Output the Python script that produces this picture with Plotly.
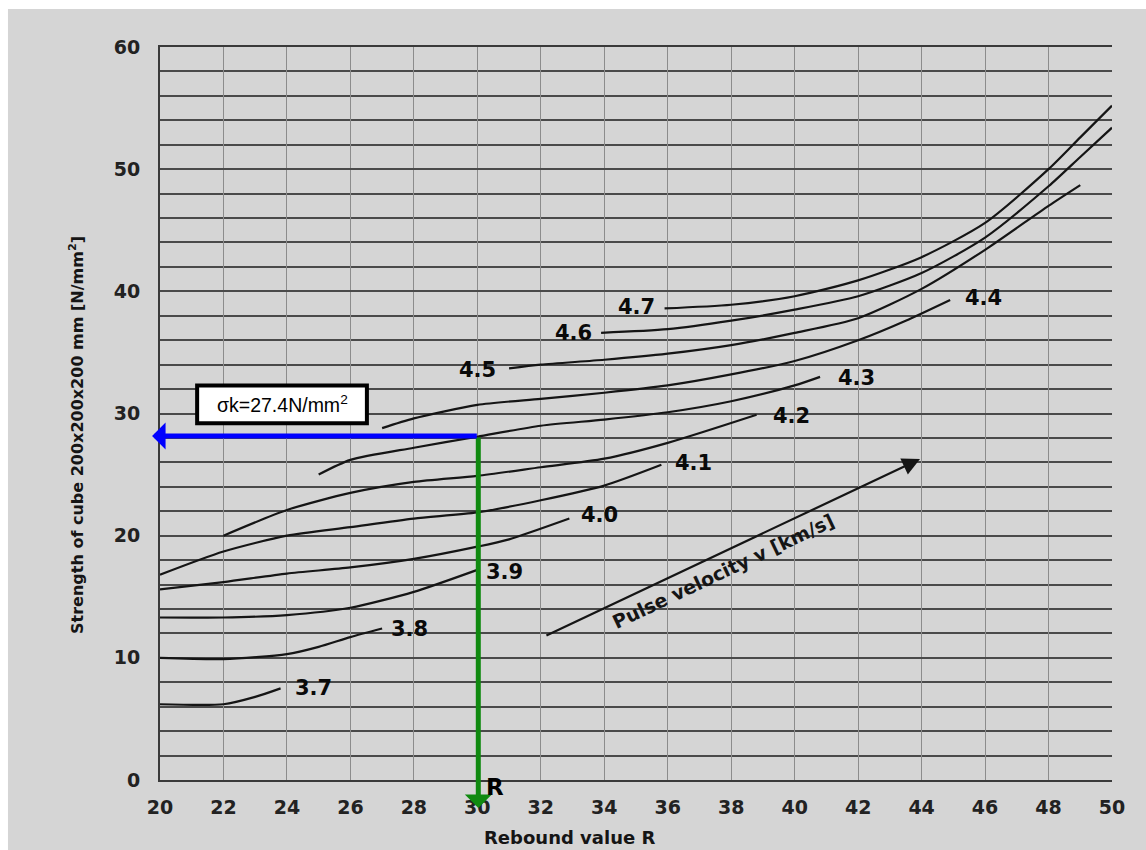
import plotly.graph_objects as go

# ---- data (R = rebound value, S = strength N/mm2) ----
r_37 = [20, 22, 23, 23.8]
s_37 = [6.2, 6.2, 6.8, 7.5]

r_38 = [20, 22, 24, 25, 26, 27]
s_38 = [10.0, 9.9, 10.3, 10.9, 11.7, 12.4]

r_39 = [20, 22, 24, 26, 28, 30]
s_39 = [13.3, 13.3, 13.5, 14.1, 15.4, 17.2]

r_40 = [20, 22, 24, 26, 28, 30, 31, 32.9]
s_40 = [15.6, 16.2, 16.9, 17.4, 18.1, 19.1, 19.7, 21.4]

r_41 = [20, 22, 24, 26, 28, 30, 32, 34, 35.8]
s_41 = [16.8, 18.7, 20.0, 20.7, 21.4, 21.9, 22.9, 24.1, 25.8]

r_42 = [22, 24, 26, 28, 30, 32, 34, 36, 38.8]
s_42 = [20.0, 22.1, 23.5, 24.4, 24.9, 25.6, 26.3, 27.6, 29.9]

r_43 = [25, 26, 28, 30, 32, 34, 36, 38, 40, 40.8]
s_43 = [25.0, 26.2, 27.2, 28.1, 29.0, 29.5, 30.1, 31.0, 32.3, 33.0]

r_44 = [27, 28, 30, 32, 34, 36, 38, 40, 42, 43.5, 44.9]
s_44 = [28.8, 29.6, 30.7, 31.2, 31.7, 32.3, 33.2, 34.3, 36.0, 37.6, 39.3]

r_45 = [31, 32, 34, 36, 38, 40, 42, 44, 46, 48, 49]
s_45 = [33.7, 34.0, 34.4, 34.9, 35.6, 36.6, 37.8, 40.2, 43.4, 47.0, 48.7]

r_46 = [33.9, 36, 38, 40, 42, 44, 46, 48, 49, 50]
s_46 = [36.6, 36.9, 37.6, 38.5, 39.6, 41.5, 44.4, 48.6, 51.0, 53.4]

r_47 = [35.9, 38, 40, 42, 44, 46, 48, 49, 50]
s_47 = [38.6, 38.9, 39.6, 40.9, 42.8, 45.6, 50.0, 52.6, 55.2]

curve_names = ["3.7", "3.8", "3.9", "4.0", "4.1", "4.2", "4.3", "4.4", "4.5", "4.6", "4.7"]
curve_r = [r_37, r_38, r_39, r_40, r_41, r_42, r_43, r_44, r_45, r_46, r_47]
curve_s = [s_37, s_38, s_39, s_40, s_41, s_42, s_43, s_44, s_45, s_46, s_47]

# curve label positions
label_r = [24.85, 27.85, 30.87, 33.84, 36.80, 39.89, 41.95, 45.95, 30.02, 33.02, 35.03]
label_s = [7.53, 12.36, 17.02, 21.69, 25.94, 29.79, 32.90, 39.44, 33.55, 36.58, 38.71]

x_ticks = list(range(20, 51, 2))
y_ticks = list(range(0, 61, 10))

# reading example
read_R = 30.03
read_S = 28.15
read_label = "σk=27.4N/mm<sup>2</sup>"

# pulse velocity arrow
pulse_start = (32.13, 11.78)
pulse_tip = (43.95, 26.27)

BG = "#d5d5d5"
INK = "#151515"

fig = go.Figure()

for name, rr, ss in zip(curve_names, curve_r, curve_s):
    fig.add_trace(go.Scatter(
        x=rr, y=ss, mode="lines", name=name,
        line=dict(color=INK, width=2.2, shape="spline", smoothing=0.7),
        showlegend=False, hoverinfo="skip",
    ))

annotations = []
for name, lr, ls in zip(curve_names, label_r, label_s):
    annotations.append(dict(
        x=lr, y=ls, xref="x", yref="y", text="<b>" + name + "</b>", showarrow=False,
        font=dict(family="DejaVu Sans", size=21, color="#0a0a0a"),
    ))

# pulse velocity arrow + text
annotations.append(dict(
    x=pulse_tip[0], y=pulse_tip[1], ax=pulse_start[0], ay=pulse_start[1],
    xref="x", yref="y", axref="x", ayref="y", text="", showarrow=True,
    arrowhead=2, arrowsize=1.6, arrowwidth=2.2, arrowcolor=INK, standoff=0,
))
annotations.append(dict(
    x=37.75, y=17.1, xref="x", yref="y", text="<b>Pulse velocity v [km/s]</b>",
    showarrow=False, textangle=-25.3,
    font=dict(family="DejaVu Sans", size=19, color=INK),
))

# green vertical reading arrow
annotations.append(dict(
    x=read_R, y=-2.3, ax=read_R, ay=read_S,
    xref="x", yref="y", axref="x", ayref="y", text="", showarrow=True,
    arrowhead=1, arrowsize=0.9, arrowwidth=5, arrowcolor="#108a10", standoff=0,
))
# blue horizontal reading arrow
annotations.append(dict(
    x=19.75, y=read_S, ax=read_R, ay=read_S,
    xref="x", yref="y", axref="x", ayref="y", text="", showarrow=True,
    arrowhead=1, arrowsize=0.9, arrowwidth=5, arrowcolor="#0000ff", standoff=0,
))
# R marker (paper y so it is not hidden off-range)
annotations.append(dict(
    x=30.55, y=-0.0095, xref="x", yref="paper", text="<b>R</b>", showarrow=False,
    xanchor="center", yanchor="middle",
    font=dict(family="DejaVu Sans", size=23, color="#000000"),
))
# result box text
annotations.append(dict(
    x=23.85, y=30.77, xref="x", yref="y", text=read_label, showarrow=False,
    font=dict(family="Liberation Sans", size=19.5, color="#000000"),
))

# axis titles
annotations.append(dict(
    x=32.9, y=-0.079, xref="x", yref="paper", text="<b>Rebound value R</b>",
    showarrow=False, xanchor="center", yanchor="middle",
    font=dict(family="DejaVu Sans", size=18, color=INK),
))
annotations.append(dict(
    x=-0.0872, y=0.4707, xref="paper", yref="paper",
    text="<b>Strength of cube 200x200x200 mm [N/mm<sup>2</sup>]</b>",
    showarrow=False, textangle=-90, xanchor="center", yanchor="middle",
    font=dict(family="DejaVu Sans", size=16, color=INK),
))

# white scan margins
fig.add_shape(type="rect", xref="paper", yref="paper", x0=-0.2, x1=1.1, y0=1.0518, y1=1.07,
              line=dict(width=0), fillcolor="#ffffff", layer="below")
fig.add_shape(type="rect", xref="paper", yref="paper", x0=-0.2, x1=-0.1597, y0=-0.1, y1=1.07,
              line=dict(width=0), fillcolor="#ffffff", layer="below")
# result box
fig.add_shape(type="rect", xref="x", yref="y", x0=21.17, x1=26.52, y0=29.2, y1=32.3,
              line=dict(color="#000000", width=4), fillcolor="#ffffff", layer="above")

fig.update_layout(
    width=1146, height=850,
    margin=dict(l=160, r=34, t=47, b=70),
    paper_bgcolor=BG, plot_bgcolor=BG,
    annotations=annotations,
    showlegend=False,
)
fig.update_xaxes(
    range=[20, 50], tickvals=x_ticks, ticktext=["<b>%d</b>" % v for v in x_ticks],
    showgrid=True, gridcolor="#8c8c8c", gridwidth=1,
    showline=True, linecolor="#3a3a3a", linewidth=2, mirror=True,
    zeroline=False, ticks="", ticklabelstandoff=9,
    tickfont=dict(family="DejaVu Sans", size=19, color="#222222"),
)
fig.update_yaxes(
    range=[0, 60], tickvals=y_ticks, ticktext=["<b>%d</b>" % v for v in y_ticks],
    showgrid=True, gridcolor="#4a4a4a", gridwidth=1.6,
    minor=dict(dtick=2, showgrid=True, gridcolor="#4a4a4a", gridwidth=1.6),
    showline=True, linecolor="#3a3a3a", linewidth=2,
    zeroline=False, ticks="", ticklabelstandoff=14,
    tickfont=dict(family="DejaVu Sans", size=19, color="#222222"),
)

fig.write_html("out.html")
